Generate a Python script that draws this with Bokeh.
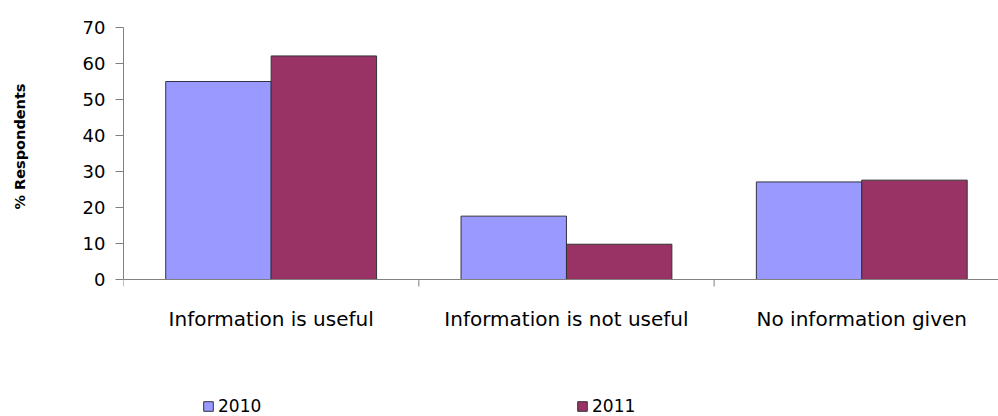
from bokeh.plotting import figure
from bokeh.models import Range1d, FixedTicker, Legend, LegendItem, ColumnDataSource, Span, Title
from bokeh.core.properties import value
from bokeh.transform import dodge
from bokeh.embed import file_html
from bokeh.resources import INLINE

categories = ["Information is useful", "Information is not useful", "No information given"]
years = ["2010", "2011"]
values_2010 = [55.0, 17.6, 27.1]
values_2011 = [62.1, 9.8, 27.6]
y_ticks = [0, 10, 20, 30, 40, 50, 60, 70]

W, H = 998, 416
TOP, AXIS_Y, LEFT = 27, 279, 123
px_per_unit = (AXIS_Y - TOP) / y_ticks[-1]
y_min = -(H - AXIS_Y) / px_per_unit

centers = [i + 0.5 for i in range(len(categories))]
bounds = [float(i) for i in range(len(categories) + 1)]
src = ColumnDataSource(dict(x=centers, v2010=values_2010, v2011=values_2011, lab=categories))

p = figure(width=W, height=H, x_range=Range1d(0, 2.963), y_range=Range1d(y_min, y_ticks[-1]),
           output_backend="svg", toolbar_location=None, x_axis_location=None,
           min_border_left=LEFT, min_border_right=0, min_border_top=TOP, min_border_bottom=0)
p.outline_line_color = None
p.xgrid.visible = False
p.ygrid.visible = False
p.background_fill_color = "white"
p.border_fill_color = "white"

bw = 0.357
r1 = p.vbar(x=dodge("x", -bw / 2, range=p.x_range), top="v2010", width=bw, source=src,
            fill_color="#9999FF", line_color="#333344", line_width=1)
r2 = p.vbar(x=dodge("x", bw / 2, range=p.x_range), top="v2011", width=bw, source=src,
            fill_color="#993366", line_color="#333333", line_width=1)

# category axis drawn at y = 0
p.add_layout(Span(location=0, dimension="width", line_color="#808080", line_width=1))
p.segment(x0=bounds, y0=[0] * len(bounds), x1=bounds, y1=[-7 / px_per_unit] * len(bounds),
          line_color="#808080", line_width=1)
p.text(x="x", y=0, text="lab", source=src, y_offset=39, text_align="center",
       text_baseline="middle", text_font=value("DejaVu Sans"), text_font_size="20px",
       text_color="black")

ya = p.yaxis[0]
ya.ticker = FixedTicker(ticks=y_ticks)
ya.bounds = (y_ticks[0], y_ticks[-1])
ya.minor_tick_line_color = None
ya.major_tick_out = 8
ya.major_tick_in = 0
ya.major_tick_line_color = "#808080"
ya.axis_line_color = "#808080"
ya.major_label_text_font = "DejaVu Sans"
ya.major_label_text_font_size = "18px"
ya.major_label_text_color = "black"
ya.major_label_standoff = 10
# blank axis label only reserves room between the tick labels and the title
ya.axis_label = " "
ya.axis_label_text_font_size = "14.5px"
ya.axis_label_standoff = 21

ytitle = Title(text="% Respondents", align="right", offset=56, standoff=20,
               vertical_align="top",
               text_font="DejaVu Sans", text_font_size="14.5px", text_font_style="bold",
               text_color="black")
p.add_layout(ytitle, "left")

legend = Legend(items=[LegendItem(label=years[0], renderers=[r1]),
                       LegendItem(label=years[1], renderers=[r2])],
                orientation="horizontal", location=(79, 0),
                glyph_width=12, glyph_height=12, label_standoff=4,
                label_width=330, spacing=28, padding=0, margin=0,
                border_line_color=None, background_fill_alpha=0,
                label_text_font="DejaVu Sans", label_text_font_size="17px",
                label_text_color="black", label_height=16)
p.add_layout(legend, "center")

open("out.html", "w").write(file_html(p, INLINE))
